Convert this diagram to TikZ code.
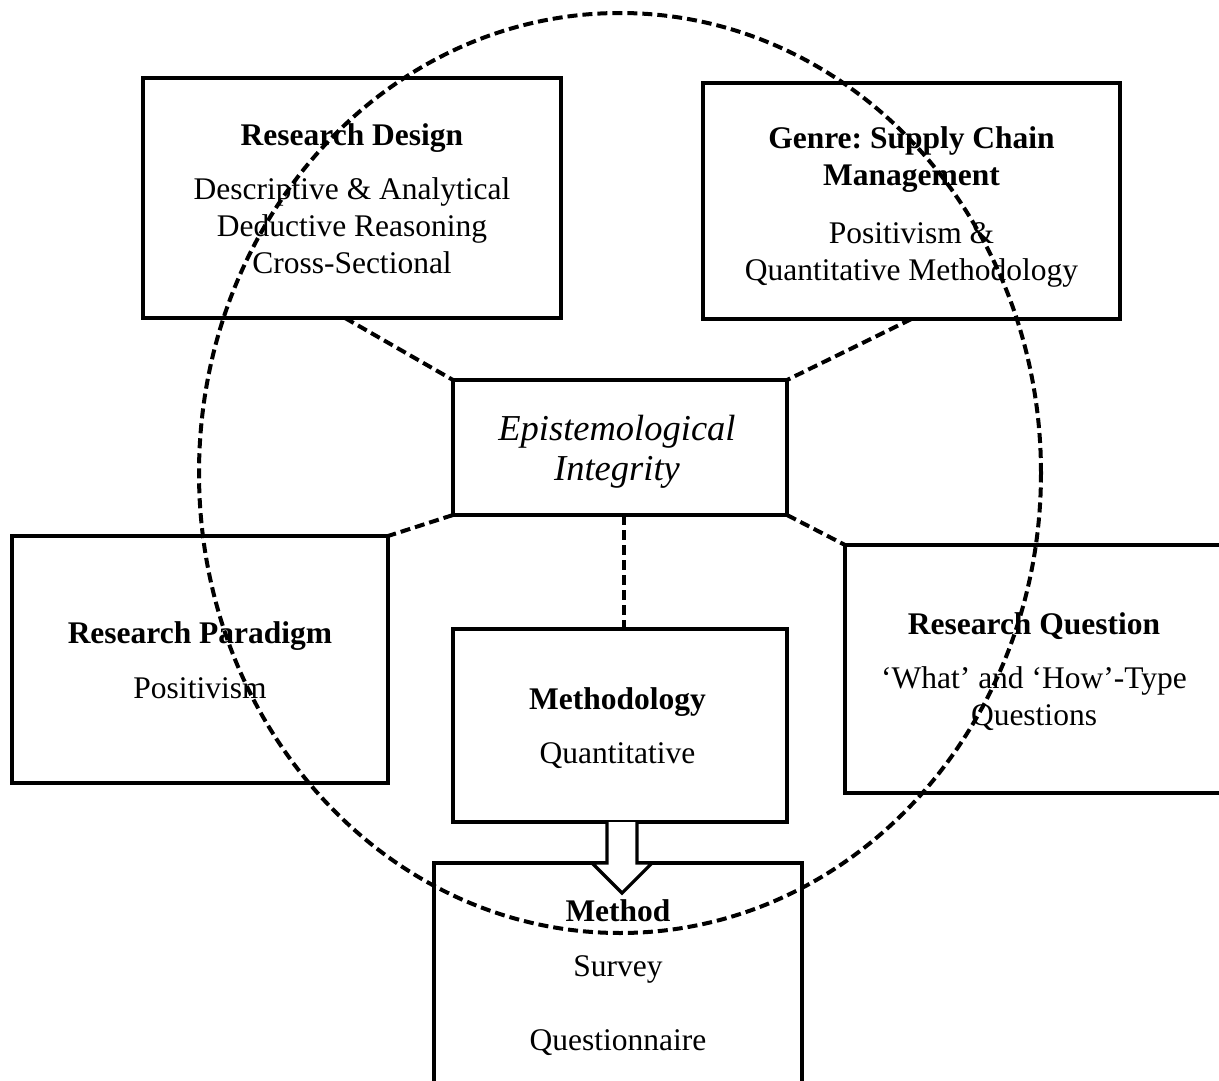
\documentclass[tikz,border=0pt]{standalone}
\usepackage{fontspec}
\setmainfont{Liberation Serif}
\usetikzlibrary{calc}

\tikzset{
  panel/.style={draw, line width=3.2pt, rectangle, inner sep=0pt, outer sep=0pt},
  heading/.style={anchor=base, inner sep=0pt, font=\fontsize{31.5}{36}\selectfont\bfseries},
  bodytext/.style={anchor=base, inner sep=0pt, font=\fontsize{31.5}{36}\selectfont},
  centretext/.style={anchor=base, inner sep=0pt, font=\fontsize{36.5}{40}\selectfont\itshape},
  link/.style={line width=4pt, dash pattern=on 10pt off 5pt},
  ring/.style={line width=4pt, dash pattern=on 10pt off 5pt},
  blockarrow/.style={draw, line width=3.2pt, fill=white, line join=miter}
}

\begin{document}
\frenchspacing
\begin{tikzpicture}[x=1pt, y=-1pt]
\useasboundingbox (0,0) rectangle (1219,1081);
\clip (0,0) rectangle (1219,1081);

% frames
\node[panel, minimum width=418pt, minimum height=240pt] (rd)    at (352,198)    {};
\node[panel, minimum width=417pt, minimum height=236pt] (genre) at (911.5,201)  {};
\node[panel, minimum width=334pt, minimum height=135pt] (ei)    at (620,447.5)  {};
\node[panel, minimum width=376pt, minimum height=247pt] (rp)    at (200,659.5)  {};
\node[panel, minimum width=334pt, minimum height=193pt] (mth)   at (620,725.5)  {};
\node[panel, minimum width=378pt, minimum height=248pt] (rq)    at (1034,669)   {};
\node[panel, minimum width=368pt, minimum height=247pt] (mtd)   at (618,986.5)  {};

% research design
\node[heading]  (rdT)  at (352,145) {Research Design};
\node[bodytext] (rdA)  at (352,199) {Descriptive \& Analytical};
\node[bodytext] (rdB)  at (352,236) {Deductive Reasoning};
\node[bodytext] (rdC)  at (352,273) {Cross-Sectional};

% genre
\node[heading]  (gT1)  at (911.5,148) {Genre: Supply Chain};
\node[heading]  (gT2)  at (911.5,185) {Management};
\node[bodytext] (gA)   at (911.5,243) {Positivism \&};
\node[bodytext] (gB)   at (911.5,280) {Quantitative Methodology};

% centre
\node[centretext] (eiA) at (617,440) {Epistemological};
\node[centretext] (eiB) at (617,480) {Integrity};

% research paradigm
\node[heading]  (rpT)  at (200,643) {Research Paradigm};
\node[bodytext] (rpA)  at (200,698) {Positivism};

% methodology
\node[heading]  (mthT) at (617.5,709) {Methodology};
\node[bodytext] (mthA) at (617.5,763) {Quantitative};

% research question
\node[heading]  (rqT)  at (1034,634) {Research Question};
\node[bodytext] (rqA)  at (1034,688) {‘What’ and ‘How’-Type};
\node[bodytext] (rqB)  at (1034,725) {Questions};

% method
\node[heading]  (mtdT) at (618,921)  {Method};
\node[bodytext] (mtdA) at (618,976)  {Survey};
\node[bodytext] (mtdB) at (618,1050) {Questionnaire};

% dashed links to the centre
\draw[link] ([xshift=-7pt]rd.south) -- (ei.north west);
\draw[link] (genre.south) -- (ei.north east);
\draw[link] (ei.south west) -- (rp.north east);
\draw[link] (ei.south east) -- (rq.north west);
\draw[link] ([xshift=4pt]ei.south) -- ([xshift=4pt]mth.north);

% block arrow from methodology to method
\draw[blockarrow]
  ($(mth.south)+(-13,0)$) -- ($(mth.south)+(-13,41)$) -- ($(mth.south)+(-28,41)$)
  -- ($(mth.south)+(2,71)$) -- ($(mth.south)+(32,41)$) -- ($(mth.south)+(17,41)$)
  -- ($(mth.south)+(17,0)$);

% enclosing dashed ring
\draw[ring] (620,473) ellipse [x radius=421pt, y radius=460pt];

\end{tikzpicture}
\end{document}
